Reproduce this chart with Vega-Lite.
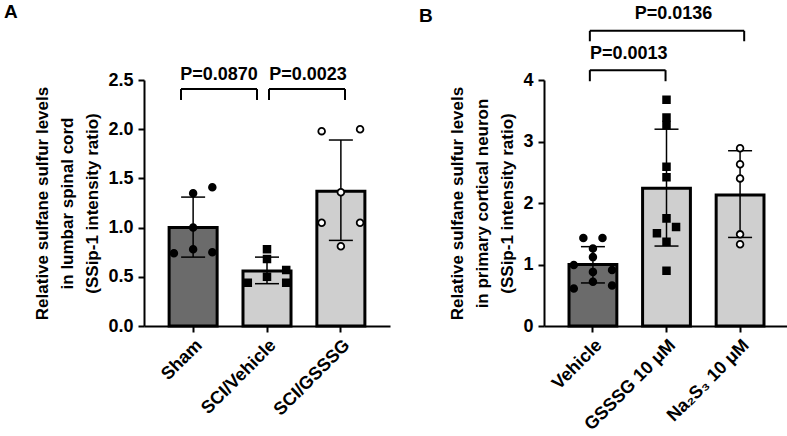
{
  "$schema": "https://vega.github.io/schema/vega-lite/v6.json",
  "padding": {"left": 3, "top": 3, "right": 0, "bottom": 0},
  "bounds": "flush",
  "spacing": 154,
  "datasets": {
    "barsA": [
      {"g": "Sham", "mean": 1.0, "lo": 0.70, "hi": 1.31},
      {"g": "SCI/Vehicle", "mean": 0.56, "lo": 0.43, "hi": 0.70},
      {"g": "SCI/GSSSG", "mean": 1.37, "lo": 0.87, "hi": 1.89}
    ],
    "ptsA": [
      {"g": "Sham", "v": 1.35, "slot": 0},
      {"g": "Sham", "v": 1.41, "slot": 2},
      {"g": "Sham", "v": 1.0, "slot": 0},
      {"g": "Sham", "v": 0.74, "slot": -2},
      {"g": "Sham", "v": 0.78, "slot": 0},
      {"g": "Sham", "v": 0.75, "slot": 2},
      {"g": "SCI/Vehicle", "v": 0.78, "slot": 0},
      {"g": "SCI/Vehicle", "v": 0.68, "slot": 0},
      {"g": "SCI/Vehicle", "v": 0.57, "slot": 2},
      {"g": "SCI/Vehicle", "v": 0.50, "slot": 0},
      {"g": "SCI/Vehicle", "v": 0.44, "slot": -2},
      {"g": "SCI/Vehicle", "v": 0.44, "slot": 2},
      {"g": "SCI/GSSSG", "v": 1.98, "slot": -2},
      {"g": "SCI/GSSSG", "v": 2.0, "slot": 2},
      {"g": "SCI/GSSSG", "v": 1.36, "slot": 0},
      {"g": "SCI/GSSSG", "v": 1.05, "slot": -2},
      {"g": "SCI/GSSSG", "v": 1.05, "slot": 2},
      {"g": "SCI/GSSSG", "v": 0.81, "slot": 0}
    ],
    "brA": [
      {"x1": -0.162, "x2": 0.865, "y": 2.408, "yb": 2.297, "xm": 0.351, "yt": 2.55, "p": "P=0.0870"},
      {"x1": 1.027, "x2": 2.054, "y": 2.408, "yb": 2.297, "xm": 1.554, "yt": 2.55, "p": "P=0.0023"}
    ],
    "barsB": [
      {"g": "Vehicle", "mean": 1.0, "lo": 0.70, "hi": 1.29},
      {"g": "GSSSG 10 μM", "mean": 2.24, "lo": 1.30, "hi": 3.20},
      {"g": "Na₂S₃ 10 μM", "mean": 2.13, "lo": 1.44, "hi": 2.85}
    ],
    "ptsB": [
      {"g": "Vehicle", "v": 1.43, "slot": -1},
      {"g": "Vehicle", "v": 1.43, "slot": 1},
      {"g": "Vehicle", "v": 1.26, "slot": 0},
      {"g": "Vehicle", "v": 1.12, "slot": 0},
      {"g": "Vehicle", "v": 0.99, "slot": -2},
      {"g": "Vehicle", "v": 0.91, "slot": 2},
      {"g": "Vehicle", "v": 0.88, "slot": 0},
      {"g": "Vehicle", "v": 0.72, "slot": 0},
      {"g": "Vehicle", "v": 0.61, "slot": -2},
      {"g": "Vehicle", "v": 0.66, "slot": 2},
      {"g": "GSSSG 10 μM", "v": 3.68, "slot": 0},
      {"g": "GSSSG 10 μM", "v": 3.39, "slot": 0},
      {"g": "GSSSG 10 μM", "v": 3.27, "slot": 0},
      {"g": "GSSSG 10 μM", "v": 2.59, "slot": 0},
      {"g": "GSSSG 10 μM", "v": 2.42, "slot": 0},
      {"g": "GSSSG 10 μM", "v": 1.75, "slot": 0},
      {"g": "GSSSG 10 μM", "v": 1.61, "slot": 1},
      {"g": "GSSSG 10 μM", "v": 1.51, "slot": -1},
      {"g": "GSSSG 10 μM", "v": 1.37, "slot": 0},
      {"g": "GSSSG 10 μM", "v": 0.90, "slot": 0},
      {"g": "Na₂S₃ 10 μM", "v": 2.89, "slot": 0},
      {"g": "Na₂S₃ 10 μM", "v": 2.63, "slot": 0},
      {"g": "Na₂S₃ 10 μM", "v": 2.40, "slot": 0},
      {"g": "Na₂S₃ 10 μM", "v": 1.49, "slot": 0},
      {"g": "Na₂S₃ 10 μM", "v": 1.33, "slot": 0}
    ],
    "brB": [
      {"x1": -0.04, "x2": 0.987, "y": 4.16, "yb": 3.98, "xm": 0.487, "yt": 4.42, "p": "P=0.0013"},
      {"x1": -0.04, "x2": 2.054, "y": 4.80, "yb": 4.63, "xm": 1.095, "yt": 5.07, "p": "P=0.0136"}
    ]
  },
  "hconcat": [
    {
      "width": 246,
      "height": 246,
      "title": {"text": "A", "anchor": "start", "frame": "bounds", "fontSize": 19, "fontWeight": "bold", "font": "Liberation Sans", "color": "black", "dx": -30, "dy": -44, "offset": 0},
      "resolve": {"scale": {"x": "independent", "xOffset": "independent"}},
      "layer": [
        {
          "data": {"name": "barsA"},
          "mark": {"type": "bar", "stroke": "black", "strokeWidth": 3},
          "encoding": {
            "x": {"field": "g", "type": "nominal", "scale": {"domain": ["Sham", "SCI/Vehicle", "SCI/GSSSG"], "paddingInner": 0.35, "paddingOuter": 0.34}, "axis": {"title": null, "labelAngle": -45, "labelPadding": 4}},
            "y": {"field": "mean", "type": "quantitative", "scale": {"domain": [0, 2.5], "nice": false}, "axis": {"title": ["Relative sulfane sulfur levels", "in lumbar spinal cord", "(SSip-1 intensity ratio)"], "values": [0, 0.5, 1, 1.5, 2, 2.5], "format": ".1f", "titlePadding": 6, "labelPadding": 5, "titleLineHeight": 25}},
            "color": {"field": "g", "type": "nominal", "scale": {"domain": ["Sham", "SCI/Vehicle", "SCI/GSSSG"], "range": ["#6b6b6b", "#cfcfcf", "#cfcfcf"]}, "legend": null}
          }
        },
        {
          "data": {"name": "barsA"},
          "mark": {"type": "rule", "color": "black", "strokeWidth": 1.5},
          "encoding": {
            "x": {"field": "g", "type": "nominal", "scale": {"domain": ["Sham", "SCI/Vehicle", "SCI/GSSSG"], "paddingInner": 0.35, "paddingOuter": 0.34}, "axis": null},
            "y": {"field": "lo", "type": "quantitative", "scale": {"domain": [0, 2.5], "nice": false}},
            "y2": {"field": "hi"}
          }
        },
        {
          "data": {"name": "barsA"},
          "mark": {"type": "tick", "color": "black", "size": 24, "thickness": 1.5, "opacity": 1},
          "encoding": {
            "x": {"field": "g", "type": "nominal", "scale": {"domain": ["Sham", "SCI/Vehicle", "SCI/GSSSG"], "paddingInner": 0.35, "paddingOuter": 0.34}, "axis": null},
            "y": {"field": "lo", "type": "quantitative", "scale": {"domain": [0, 2.5], "nice": false}}
          }
        },
        {
          "data": {"name": "barsA"},
          "mark": {"type": "tick", "color": "black", "size": 24, "thickness": 1.5, "opacity": 1},
          "encoding": {
            "x": {"field": "g", "type": "nominal", "scale": {"domain": ["Sham", "SCI/Vehicle", "SCI/GSSSG"], "paddingInner": 0.35, "paddingOuter": 0.34}, "axis": null},
            "y": {"field": "hi", "type": "quantitative", "scale": {"domain": [0, 2.5], "nice": false}}
          }
        },
        {
          "data": {"name": "ptsA"},
          "mark": {"type": "point", "filled": true, "stroke": "black", "strokeWidth": 1.8, "size": 45, "opacity": 1},
          "encoding": {
            "x": {"field": "g", "type": "nominal", "scale": {"domain": ["Sham", "SCI/Vehicle", "SCI/GSSSG"], "paddingInner": 0.35, "paddingOuter": 0.34}, "axis": null},
            "xOffset": {"field": "slot", "type": "ordinal", "scale": {"domain": [-2, -1, 0, 1, 2], "paddingInner": 0, "paddingOuter": 0.5}},
            "y": {"field": "v", "type": "quantitative", "scale": {"domain": [0, 2.5], "nice": false}},
            "shape": {"field": "g", "type": "nominal", "scale": {"domain": ["Sham", "SCI/Vehicle", "SCI/GSSSG"], "range": ["circle", "square", "circle"]}, "legend": null},
            "fill": {"field": "g", "type": "nominal", "scale": {"domain": ["Sham", "SCI/Vehicle", "SCI/GSSSG"], "range": ["black", "black", "white"]}, "legend": null}
          }
        },
        {
          "data": {"name": "brA"},
          "mark": {"type": "rule", "color": "black", "strokeWidth": 2},
          "encoding": {
            "x": {"field": "x1", "type": "quantitative", "scale": {"domain": [-0.662, 2.662], "nice": false, "zero": false}, "axis": null},
            "x2": {"field": "x2"},
            "y": {"field": "y", "type": "quantitative", "scale": {"domain": [0, 2.5], "nice": false}}
          }
        },
        {
          "data": {"name": "brA"},
          "mark": {"type": "rule", "color": "black", "strokeWidth": 2},
          "encoding": {
            "x": {"field": "x1", "type": "quantitative", "scale": {"domain": [-0.662, 2.662], "nice": false, "zero": false}, "axis": null},
            "y": {"field": "yb", "type": "quantitative", "scale": {"domain": [0, 2.5], "nice": false}},
            "y2": {"field": "y"}
          }
        },
        {
          "data": {"name": "brA"},
          "mark": {"type": "rule", "color": "black", "strokeWidth": 2},
          "encoding": {
            "x": {"field": "x2", "type": "quantitative", "scale": {"domain": [-0.662, 2.662], "nice": false, "zero": false}, "axis": null},
            "y": {"field": "yb", "type": "quantitative", "scale": {"domain": [0, 2.5], "nice": false}},
            "y2": {"field": "y"}
          }
        },
        {
          "data": {"name": "brA"},
          "mark": {"type": "text", "font": "Liberation Sans", "fontSize": 18, "fontWeight": "bold", "color": "black", "align": "center", "baseline": "middle"},
          "encoding": {
            "x": {"field": "xm", "type": "quantitative", "scale": {"domain": [-0.662, 2.662], "nice": false, "zero": false}, "axis": null},
            "y": {"field": "yt", "type": "quantitative", "scale": {"domain": [0, 2.5], "nice": false}},
            "text": {"field": "p", "type": "nominal"}
          }
        }
      ]
    },
    {
      "width": 245,
      "height": 246,
      "title": {"text": "B", "anchor": "start", "frame": "bounds", "fontSize": 19, "fontWeight": "bold", "font": "Liberation Sans", "color": "black", "dx": -30, "dy": 21, "offset": 0},
      "resolve": {"scale": {"x": "independent", "xOffset": "independent"}},
      "layer": [
        {
          "data": {"name": "barsB"},
          "mark": {"type": "bar", "stroke": "black", "strokeWidth": 3},
          "encoding": {
            "x": {"field": "g", "type": "nominal", "scale": {"domain": ["Vehicle", "GSSSG 10 μM", "Na₂S₃ 10 μM"], "paddingInner": 0.35, "paddingOuter": 0.34}, "axis": {"title": null, "labelAngle": -45, "labelPadding": 4}},
            "y": {"field": "mean", "type": "quantitative", "scale": {"domain": [0, 4], "nice": false}, "axis": {"title": ["Relative sulfane sulfur levels", "in primary cortical neuron", "(SSip-1 intensity ratio)"], "values": [0, 1, 2, 3, 4], "format": "d", "titlePadding": 6, "labelPadding": 5, "titleLineHeight": 25}},
            "color": {"field": "g", "type": "nominal", "scale": {"domain": ["Vehicle", "GSSSG 10 μM", "Na₂S₃ 10 μM"], "range": ["#6b6b6b", "#cfcfcf", "#cfcfcf"]}, "legend": null}
          }
        },
        {
          "data": {"name": "barsB"},
          "mark": {"type": "rule", "color": "black", "strokeWidth": 1.5},
          "encoding": {
            "x": {"field": "g", "type": "nominal", "scale": {"domain": ["Vehicle", "GSSSG 10 μM", "Na₂S₃ 10 μM"], "paddingInner": 0.35, "paddingOuter": 0.34}, "axis": null},
            "y": {"field": "lo", "type": "quantitative", "scale": {"domain": [0, 4], "nice": false}},
            "y2": {"field": "hi"}
          }
        },
        {
          "data": {"name": "barsB"},
          "mark": {"type": "tick", "color": "black", "size": 24, "thickness": 1.5, "opacity": 1},
          "encoding": {
            "x": {"field": "g", "type": "nominal", "scale": {"domain": ["Vehicle", "GSSSG 10 μM", "Na₂S₃ 10 μM"], "paddingInner": 0.35, "paddingOuter": 0.34}, "axis": null},
            "y": {"field": "lo", "type": "quantitative", "scale": {"domain": [0, 4], "nice": false}}
          }
        },
        {
          "data": {"name": "barsB"},
          "mark": {"type": "tick", "color": "black", "size": 24, "thickness": 1.5, "opacity": 1},
          "encoding": {
            "x": {"field": "g", "type": "nominal", "scale": {"domain": ["Vehicle", "GSSSG 10 μM", "Na₂S₃ 10 μM"], "paddingInner": 0.35, "paddingOuter": 0.34}, "axis": null},
            "y": {"field": "hi", "type": "quantitative", "scale": {"domain": [0, 4], "nice": false}}
          }
        },
        {
          "data": {"name": "ptsB"},
          "mark": {"type": "point", "filled": true, "stroke": "black", "strokeWidth": 1.8, "size": 45, "opacity": 1},
          "encoding": {
            "x": {"field": "g", "type": "nominal", "scale": {"domain": ["Vehicle", "GSSSG 10 μM", "Na₂S₃ 10 μM"], "paddingInner": 0.35, "paddingOuter": 0.34}, "axis": null},
            "xOffset": {"field": "slot", "type": "ordinal", "scale": {"domain": [-2, -1, 0, 1, 2], "paddingInner": 0, "paddingOuter": 0.5}},
            "y": {"field": "v", "type": "quantitative", "scale": {"domain": [0, 4], "nice": false}},
            "shape": {"field": "g", "type": "nominal", "scale": {"domain": ["Vehicle", "GSSSG 10 μM", "Na₂S₃ 10 μM"], "range": ["circle", "square", "circle"]}, "legend": null},
            "fill": {"field": "g", "type": "nominal", "scale": {"domain": ["Vehicle", "GSSSG 10 μM", "Na₂S₃ 10 μM"], "range": ["black", "black", "white"]}, "legend": null}
          }
        },
        {
          "data": {"name": "brB"},
          "mark": {"type": "rule", "color": "black", "strokeWidth": 2},
          "encoding": {
            "x": {"field": "x1", "type": "quantitative", "scale": {"domain": [-0.662, 2.662], "nice": false, "zero": false}, "axis": null},
            "x2": {"field": "x2"},
            "y": {"field": "y", "type": "quantitative", "scale": {"domain": [0, 4], "nice": false}}
          }
        },
        {
          "data": {"name": "brB"},
          "mark": {"type": "rule", "color": "black", "strokeWidth": 2},
          "encoding": {
            "x": {"field": "x1", "type": "quantitative", "scale": {"domain": [-0.662, 2.662], "nice": false, "zero": false}, "axis": null},
            "y": {"field": "yb", "type": "quantitative", "scale": {"domain": [0, 4], "nice": false}},
            "y2": {"field": "y"}
          }
        },
        {
          "data": {"name": "brB"},
          "mark": {"type": "rule", "color": "black", "strokeWidth": 2},
          "encoding": {
            "x": {"field": "x2", "type": "quantitative", "scale": {"domain": [-0.662, 2.662], "nice": false, "zero": false}, "axis": null},
            "y": {"field": "yb", "type": "quantitative", "scale": {"domain": [0, 4], "nice": false}},
            "y2": {"field": "y"}
          }
        },
        {
          "data": {"name": "brB"},
          "mark": {"type": "text", "font": "Liberation Sans", "fontSize": 18, "fontWeight": "bold", "color": "black", "align": "center", "baseline": "middle"},
          "encoding": {
            "x": {"field": "xm", "type": "quantitative", "scale": {"domain": [-0.662, 2.662], "nice": false, "zero": false}, "axis": null},
            "y": {"field": "yt", "type": "quantitative", "scale": {"domain": [0, 4], "nice": false}},
            "text": {"field": "p", "type": "nominal"}
          }
        }
      ]
    }
  ],
  "config": {
    "view": {"stroke": null},
    "font": "Liberation Sans",
    "axis": {
      "grid": false,
      "domainColor": "black",
      "domainWidth": 2,
      "tickColor": "black",
      "tickWidth": 2,
      "tickSize": 6,
      "labelFont": "Liberation Sans",
      "labelFontSize": 18,
      "labelFontWeight": "bold",
      "labelColor": "black",
      "titleFont": "Liberation Sans",
      "titleFontSize": 17,
      "titleFontWeight": "bold",
      "titleColor": "black"
    }
  }
}
